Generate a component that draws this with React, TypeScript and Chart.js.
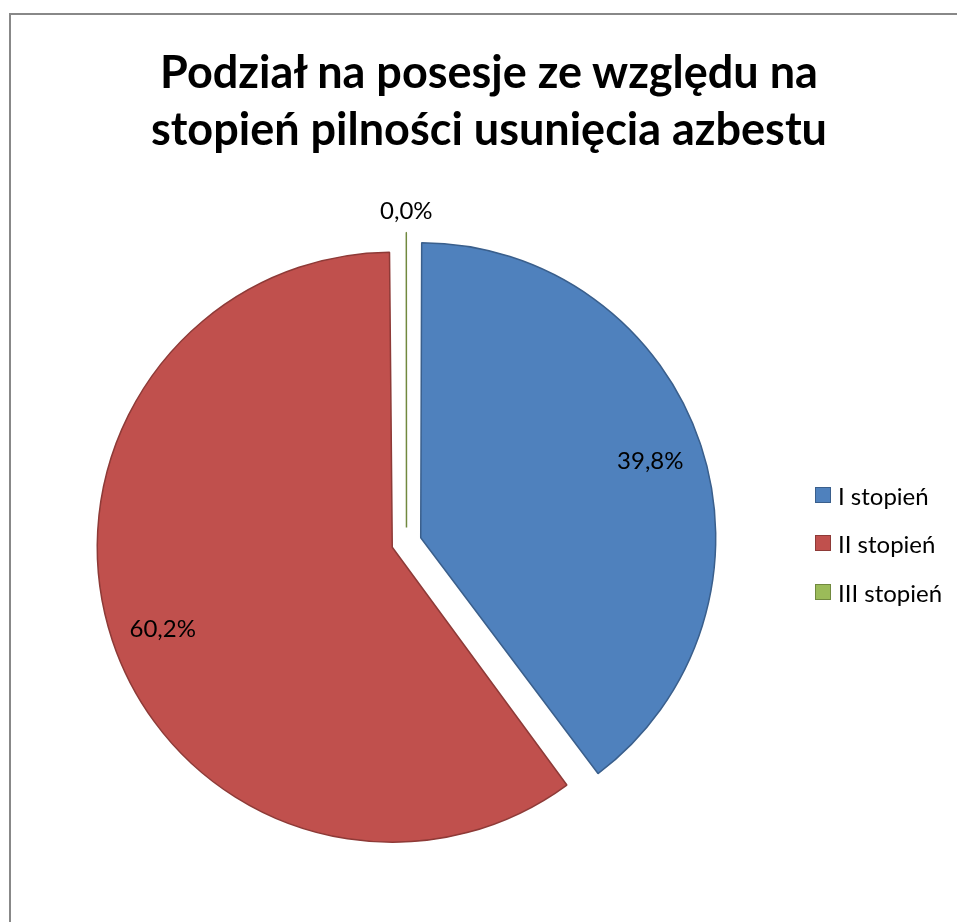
import React, { useEffect, useRef } from "react";
import { Chart, registerables } from "chart.js";

Chart.register(...registerables);

const TITLE_LINES = ["Podział na posesje ze względu na", "stopień pilności usunięcia azbestu"];
const CATEGORIES = ["I stopień", "II stopień", "III stopień"];
const VALUES = [39.8, 60.2, 0.02];
const COLORS = ["#4F81BD", "#C0504D", "#9BBB59"];
const BORDER_COLORS = ["#3A5F8C", "#8E3A37", "#71893F"];

const RADIUS = 295;
const EXPLODE = 15;
const FONT = "Lato, 'Open Sans', sans-serif";

const equalRadius = {
  id: "equalRadius",
  beforeDatasetsDraw(chart: any) {
    const meta = chart.getDatasetMeta(0);
    meta.data.forEach((el: any) => {
      const fix = 1 - Math.sin(Math.min(Math.PI, el.circumference || 0));
      el.outerRadius = RADIUS - EXPLODE * fix;
    });
  },
};

const sliceLabels = {
  id: "sliceLabels",
  afterDatasetsDraw(chart: any) {
    const ctx = chart.ctx;
    const meta = chart.getDatasetMeta(0);
    const total = VALUES.reduce((a, b) => a + b, 0);
    ctx.save();
    ctx.font = `24px ${FONT}`;
    ctx.fillStyle = "#000";
    ctx.textAlign = "center";
    ctx.textBaseline = "middle";
    meta.data.forEach((el: any, i: number) => {
      const pct = (VALUES[i] / total) * 100;
      const mid = (el.startAngle + el.endAngle) / 2;
      const cx = el.x + Math.cos(mid) * EXPLODE;
      const cy = el.y + Math.sin(mid) * EXPLODE;
      const d = pct < 1 ? RADIUS + 21 : RADIUS * 0.82;
      const text = pct.toFixed(1).replace(".", ",") + "%";
      ctx.fillText(text, cx + Math.cos(mid) * d, cy + Math.sin(mid) * d + (pct > 50 ? 6 : 0));
    });
    ctx.restore();
  },
};

function PieChart() {
  const ref = useRef<HTMLCanvasElement | null>(null);
  useEffect(() => {
    if (!ref.current) return;
    const chart = new Chart(ref.current, {
      type: "pie",
      data: {
        labels: CATEGORIES,
        datasets: [
          {
            data: VALUES,
            backgroundColor: COLORS,
            borderColor: BORDER_COLORS,
            borderWidth: 1.5,
            offset: EXPLODE * 4,
          },
        ],
      },
      options: {
        responsive: false,
        devicePixelRatio: 1,
        animation: false,
        radius: RADIUS,
        layout: { padding: { left: 0, right: 144, top: 163, bottom: 0 } },
        plugins: {
          legend: { display: false },
          title: { display: false },
          tooltip: { enabled: false },
        },
      } as any,
      plugins: [equalRadius, sliceLabels],
    });
    return () => chart.destroy();
  }, []);
  return (
    <canvas
      ref={ref}
      width={957}
      height={922}
      style={{ position: "fixed", left: 0, top: 0, width: 957, height: 922 }}
    />
  );
}

export default function App() {
  return (
    <div>
      <div
        style={{
          position: "fixed",
          left: 9,
          top: 13,
          width: 1000,
          height: 1000,
          border: "2px solid #888",
          boxSizing: "border-box",
          background: "#fff",
        }}
      />
      <PieChart />
      <div
        style={{
          position: "fixed",
          left: 0,
          top: 43,
          width: 978,
          textAlign: "center",
          fontFamily: FONT,
          fontWeight: 700,
          fontSize: 45,
          lineHeight: "57px",
          color: "#000",
        }}
      >
        {TITLE_LINES.map((l) => (
          <div key={l}>{l}</div>
        ))}
      </div>
      {CATEGORIES.map((c, i) => (
        <div
          key={c}
          style={{
            position: "fixed",
            left: 815,
            top: [495, 543, 592][i] - 13,
            height: 26,
            display: "flex",
            alignItems: "center",
            fontFamily: FONT,
            fontSize: 24,
            color: "#000",
          }}
        >
          <span
            style={{
              display: "inline-block",
              width: 14,
              height: 14,
              background: COLORS[i],
              border: `1px solid ${BORDER_COLORS[i]}`,
              marginRight: 7,
            }}
          />
          <span>{c}</span>
        </div>
      ))}
    </div>
  );
}
